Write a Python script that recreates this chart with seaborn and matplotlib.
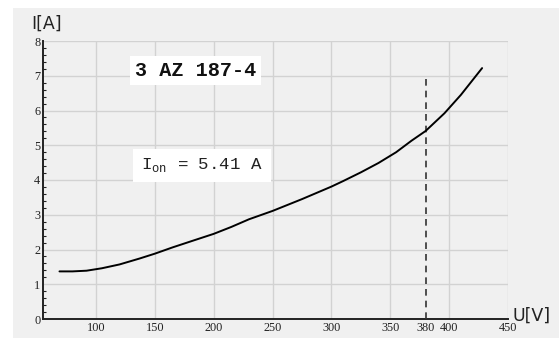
import matplotlib
matplotlib.use("Agg")
import matplotlib.pyplot as plt
import seaborn as sns
import pandas as pd
from matplotlib.patches import Rectangle
from matplotlib.ticker import MultipleLocator

# Data
U = [69, 80, 92, 105, 120, 137, 150, 165, 182, 200, 215, 230, 250, 275,
     300, 310, 325, 340, 355, 368, 380, 396, 410, 428]
I = [1.37, 1.37, 1.39, 1.46, 1.57, 1.74, 1.88, 2.06, 2.25, 2.45, 2.65, 2.87,
     3.11, 3.45, 3.81, 3.97, 4.22, 4.49, 4.80, 5.13, 5.41, 5.92, 6.45, 7.22]
x_ticks = [100, 150, 200, 250, 300, 350, 380, 400, 450]
y_ticks = [0, 1, 2, 3, 4, 5, 6, 7, 8]
U_on = 380
I_on = 5.41
dash_top = 6.95
title = "3 AZ 187-4"
xlabel = "U[V]"
ylabel = "I[A]"

df = pd.DataFrame({"U": U, "I": I})

sns.set_theme(style="white")
plt.rcParams["mathtext.fontset"] = "custom"
plt.rcParams["mathtext.tt"] = "Liberation Mono"
plt.rcParams["mathtext.rm"] = "Liberation Mono"

bg = "#f0f0f0"
fig = plt.figure(figsize=(5.6, 3.38), dpi=100, facecolor="white")
fig.patches.append(Rectangle((13 / 560, 0), 546 / 560, 330 / 338,
                             transform=fig.transFigure, facecolor=bg,
                             edgecolor="none", zorder=-10))
ax = fig.add_axes([43 / 560, 19 / 338, 465 / 560, 278 / 338])
ax.set_zorder(1)
ax.set_facecolor(bg)

sns.lineplot(data=df, x="U", y="I", ax=ax, color="black", linewidth=1.4,
             zorder=5)
ax.plot([U_on, U_on], [0, dash_top], color="#333333", linestyle=(0, (4, 3)),
        linewidth=1.2, zorder=4)

ax.set_xlim(55, 450)
ax.set_ylim(0, 8)
ax.set_xticks(x_ticks)
ax.set_yticks(y_ticks)
ax.yaxis.set_minor_locator(MultipleLocator(0.2))
ax.grid(True, which="major", color="#d2d2d2", linewidth=1.0)
ax.grid(False, which="minor")
# remove the grid line at 380
for gl, t in zip(ax.get_xgridlines(), x_ticks):
    if t == 380:
        gl.set_visible(False)

for s in ["top", "right"]:
    ax.spines[s].set_visible(False)
for s in ["left", "bottom"]:
    ax.spines[s].set_color("#222222")
    ax.spines[s].set_linewidth(1.4)

ax.tick_params(axis="both", which="major", direction="in", length=4,
               width=1.0, color="#222222", pad=2, labelsize=8.8)
ax.tick_params(axis="y", which="minor", direction="in", length=2.5,
               width=0.8, color="#222222", left=True)
for lab in ax.get_xticklabels() + ax.get_yticklabels():
    lab.set_fontfamily("Liberation Serif")
    lab.set_color("#222222")
ax.set_xlabel("")
ax.set_ylabel("")

fig.text(31 / 560, 1 - 29 / 338, ylabel, fontsize=12.5, color="#222222",
         family="DejaVu Sans", ha="left", va="baseline")
fig.text(512 / 560, 1 - 321 / 338, xlabel, fontsize=12.5, color="#222222",
         family="DejaVu Sans", ha="left", va="baseline")

ax.text(184.7, 7.14, title, fontsize=14.5, fontweight="bold",
        family="Liberation Mono", ha="center", va="center", color="#111111",
        bbox=dict(boxstyle="square,pad=0.25", facecolor="white",
                  edgecolor="none"), zorder=6)
ax.text(190, 4.42, r"$\mathtt{I}_{\mathtt{on}}$ = " + f"{I_on:.2f} A",
        fontsize=12.5, family="Liberation Mono", ha="center", va="center",
        color="#222222",
        bbox=dict(boxstyle="square,pad=0.45", facecolor="white",
                  edgecolor="none"), zorder=6)

fig.savefig("out.png", dpi=100, facecolor="white")
